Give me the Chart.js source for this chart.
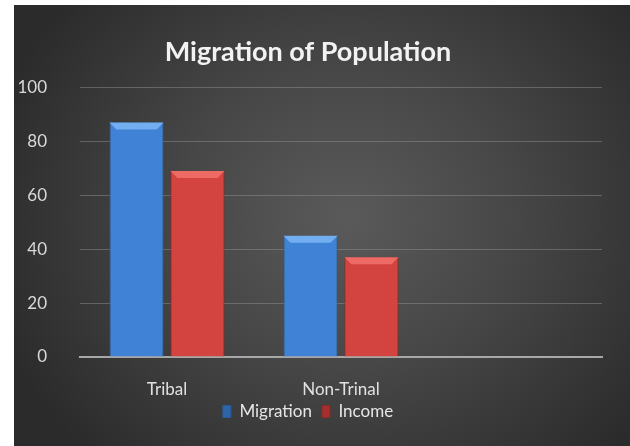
<!DOCTYPE html>
<html>
<head>
<meta charset="utf-8">
<script src="https://cdn.jsdelivr.net/npm/chart.js@4"></script>
<style>
  html, body { margin: 0; padding: 0; background: #fff; }
  #box {
    position: absolute; left: 14px; top: 5px; width: 616px; height: 441px;
    background: radial-gradient(ellipse 60% 75% at 54% 48%, #5a5a5a 0%, #474747 45%, #2b2b2b 100%);
  }
  canvas { display: block; }
</style>
</head>
<body>
<div id="box"><canvas id="chart" width="616" height="441"></canvas></div>
<script>
const categories = ["Tribal", "Non-Trinal", ""];
const migration = [87, 45, null];
const income = [69, 37, null];
const yTicks = [0, 20, 40, 60, 80, 100];

const FONT = "Lato, 'Liberation Sans', sans-serif";

function barFill(ctx, light, dark) {
  const el = ctx.element;
  if (!ctx.chart.chartArea || !el || el.x === undefined) return light;
  const w = el.width || 54;
  const g = ctx.chart.ctx.createLinearGradient(el.x - w / 2, 0, el.x + w / 2, 0);
  g.addColorStop(0, dark);
  g.addColorStop(0.5, light);
  g.addColorStop(1, dark);
  return g;
}

// bevelled tops on the bars
const bevel = {
  id: "bevel",
  afterDatasetsDraw(chart) {
    const c = chart.ctx;
    const tops = ["#72aef0", "#ee6a64"];
    chart.data.datasets.forEach((ds, i) => {
      chart.getDatasetMeta(i).data.forEach((bar, j) => {
        if (ds.data[j] == null) return;
        const l = bar.x - bar.width / 2, r = bar.x + bar.width / 2, t = bar.y, d = 7;
        c.save();
        c.fillStyle = tops[i];
        c.beginPath();
        c.moveTo(l, t); c.lineTo(r, t); c.lineTo(r - d, t + d); c.lineTo(l + d, t + d);
        c.closePath(); c.fill();
        c.restore();
      });
    });
  }
};

// legend sits tight under the category labels
const legendNudge = {
  id: "legendNudge",
  afterInit(chart) {
    const lg = chart.legend, draw = lg.draw;
    lg.draw = function (area) {
      this.ctx.save();
      this.ctx.translate(0, -8);
      draw.call(this, area);
      this.ctx.restore();
    };
  }
};

new Chart(document.getElementById("chart"), {
  type: "bar",
  data: {
    labels: categories,
    datasets: [{
      label: "Migration",
      data: migration,
      backgroundColor: ctx => barFill(ctx, "#3f82d6", "#2f64a8"),
      borderColor: "#2a5a9a",
      borderWidth: 1
    }, {
      label: "Income",
      data: income,
      backgroundColor: ctx => barFill(ctx, "#d3433f", "#a52f2c"),
      borderColor: "#8e2826",
      borderWidth: 1
    }]
  },
  options: {
    responsive: false,
    animation: false,
    categoryPercentage: 0.7,
    barPercentage: 0.89,
    layout: { padding: { left: 0, right: 28, top: 0, bottom: 8 } },
    plugins: {
      title: {
        display: true,
        text: "Migration of Population",
        color: "#f2f2f2",
        font: { family: FONT, size: 27, weight: "bold" },
        padding: { top: 31, bottom: 19 }
      },
      legend: {
        position: "bottom",
        labels: {
          color: "#e6e6e6",
          font: { family: FONT, size: 17 },
          boxWidth: 8,
          boxHeight: 12,
          padding: 10
        }
      },
      tooltip: { enabled: false }
    },
    scales: {
      x: {
        afterFit: axis => { axis.height = 44; },
        grid: { display: false },
        border: { color: "#a8a8a8", width: 2 },
        ticks: { color: "#e0e0e0", font: { family: FONT, size: 17 }, padding: 14 }
      },
      y: {
        min: 0, max: 100,
        afterBuildTicks: axis => { axis.ticks = yTicks.map(v => ({ value: v })); },
        afterFit: axis => { axis.width = 66; },
        grid: { color: "rgba(150,150,150,0.45)", drawTicks: false, lineWidth: 1 },
        border: { display: false },
        ticks: { color: "#d9d9d9", font: { family: FONT, size: 17 }, padding: 33 }
      }
    }
  },
  plugins: [bevel, legendNudge]
});
</script>
</body>
</html>
